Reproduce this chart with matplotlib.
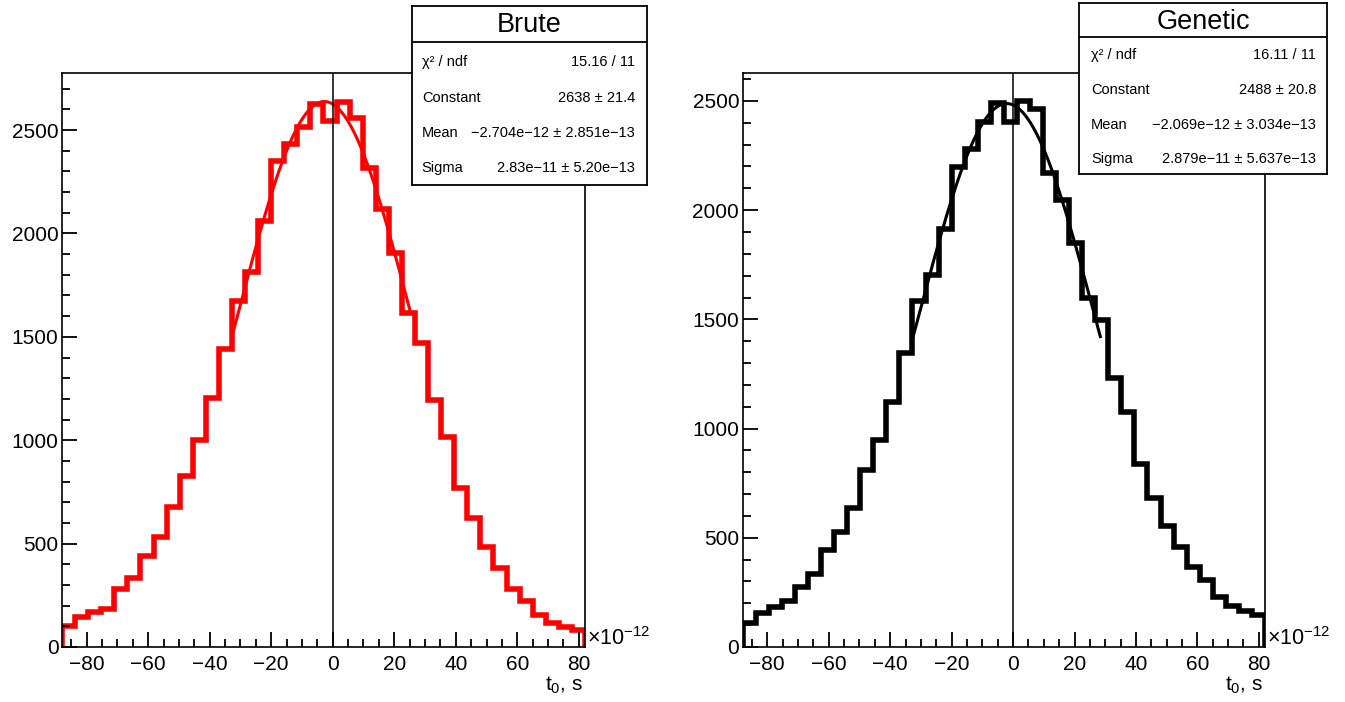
import numpy as np
import matplotlib
matplotlib.use('Agg')
import matplotlib.pyplot as plt
from matplotlib.ticker import MultipleLocator

plt.rcParams['font.family'] = ['Liberation Sans', 'DejaVu Sans']
plt.rcParams['mathtext.fontset'] = 'custom'
plt.rcParams['mathtext.rm'] = 'Liberation Sans'
plt.rcParams['mathtext.it'] = 'Liberation Sans'

# histogram range in units of 1e-12 s, 40 bins
x_min, x_max, n_bins = -88.0, 82.0, 40

brute_counts = [101, 145, 168, 185, 280, 332, 440, 533, 678, 827,
                1001, 1202, 1440, 1673, 1815, 2060, 2350, 2435, 2516, 2626,
                2545, 2637, 2557, 2315, 2117, 1904, 1614, 1468, 1194, 1014,
                767, 625, 485, 383, 279, 222, 155, 115, 98, 82]
genetic_counts = [111, 154, 182, 212, 276, 334, 444, 528, 635, 810,
                  948, 1123, 1348, 1584, 1703, 1913, 2196, 2279, 2403, 2492,
                  2405, 2501, 2462, 2169, 2047, 1848, 1597, 1497, 1230, 1075,
                  838, 681, 555, 457, 368, 307, 230, 189, 166, 147]

# fit results (constant, mean, sigma in 1e-12 s) and fit ranges
brute_fit = (2638, -2.704, 28.3)
genetic_fit = (2488, -2.069, 28.79)
brute_range = (-32.8, 25.2)
genetic_range = (-32.8, 28.4)

brute_stats = [("χ² / ndf", "15.16 / 11"),
               ("Constant", "2638 ± 21.4"),
               ("Mean", "−2.704e−12 ± 2.851e−13"),
               ("Sigma", "2.83e−11 ± 5.20e−13")]
genetic_stats = [("χ² / ndf", "16.11 / 11"),
                 ("Constant", "2488 ± 20.8"),
                 ("Mean", "−2.069e−12 ± 3.034e−13"),
                 ("Sigma", "2.879e−11 ± 5.637e−13")]

W, H = 1345, 702
fig = plt.figure(figsize=(W / 100, H / 100), dpi=100)


def px_box(left, top, right, bottom):
    # pixel box -> figure fraction rect
    return [left / W, 1 - bottom / H, (right - left) / W, (bottom - top) / H]


def draw_panel(rect, counts, fit, fit_range, color, ymax):
    ax = fig.add_axes(rect)
    edges = np.linspace(x_min, x_max, n_bins + 1)
    ax.stairs(counts, edges, color=color, lw=4, baseline=0)
    c, mu, sig = fit
    xs = np.linspace(fit_range[0], fit_range[1], 200)
    ax.plot(xs, c * np.exp(-0.5 * ((xs - mu) / sig) ** 2), color=color, lw=2.2)
    ax.axvline(0, color='black', lw=1.1)
    ax.set_xlim(x_min, x_max)
    ax.set_ylim(0, ymax)
    ax.xaxis.set_major_locator(MultipleLocator(20))
    ax.xaxis.set_minor_locator(MultipleLocator(5))
    ax.yaxis.set_major_locator(MultipleLocator(500))
    ax.yaxis.set_minor_locator(MultipleLocator(100))
    ax.tick_params(which='both', direction='in', top=False, right=False, width=1.3)
    ax.tick_params(which='major', length=11)
    ax.tick_params(which='minor', length=5.8)
    ax.tick_params(axis='x', labelsize=15, pad=6)
    ax.tick_params(axis='y', labelsize=15, pad=2.5)
    for s in ax.spines.values():
        s.set_linewidth(1.2)
    return ax


def draw_stats(rect, title, rows, sep, title_y, row_y, lab_x, val_x):
    bx = fig.add_axes(rect)
    bx.set_xlim(0, 1)
    bx.set_ylim(0, 1)
    bx.set_xticks([])
    bx.set_yticks([])
    bx.set_facecolor('white')
    for s in bx.spines.values():
        s.set_linewidth(1.3)
    bx.axhline(sep, color='black', lw=1.3)
    bx.text(0.5, title_y, title, ha='center', va='center', fontsize=19.5)
    for (lab, val), y in zip(rows, row_y):
        bx.text(lab_x, y, lab, ha='left', va='center', fontsize=10.5)
        bx.text(val_x, y, val, ha='right', va='center', fontsize=10.5)


draw_panel(px_box(62, 73, 585, 647), brute_counts, brute_fit, brute_range, 'red', 2776)
draw_panel(px_box(742.7, 73, 1265, 647), genetic_counts, genetic_fit, genetic_range, 'black', 2628)

draw_stats(px_box(411.7, 6, 646.7, 185), "Brute", brute_stats, 0.797, 0.894,
           [0.689, 0.488, 0.291, 0.095], 0.043, 0.950)
draw_stats(px_box(1079, 3.3, 1327.3, 174), "Genetic", genetic_stats, 0.804, 0.892,
           [0.697, 0.492, 0.287, 0.088], 0.048, 0.955)

# exponent and axis titles, ROOT style
for x0, x1 in [(587, 583), (1267, 1263)]:
    fig.text(x0 / W, 1 - 645 / H, r'×10$^{\mathregular{-12}}$', fontsize=15.5, ha='left', va='baseline')
    fig.text(x1 / W, 1 - 691 / H, r'$\mathregular{t_0}$, s', fontsize=15, ha='right', va='baseline')

fig.savefig('out.png', dpi=100)
